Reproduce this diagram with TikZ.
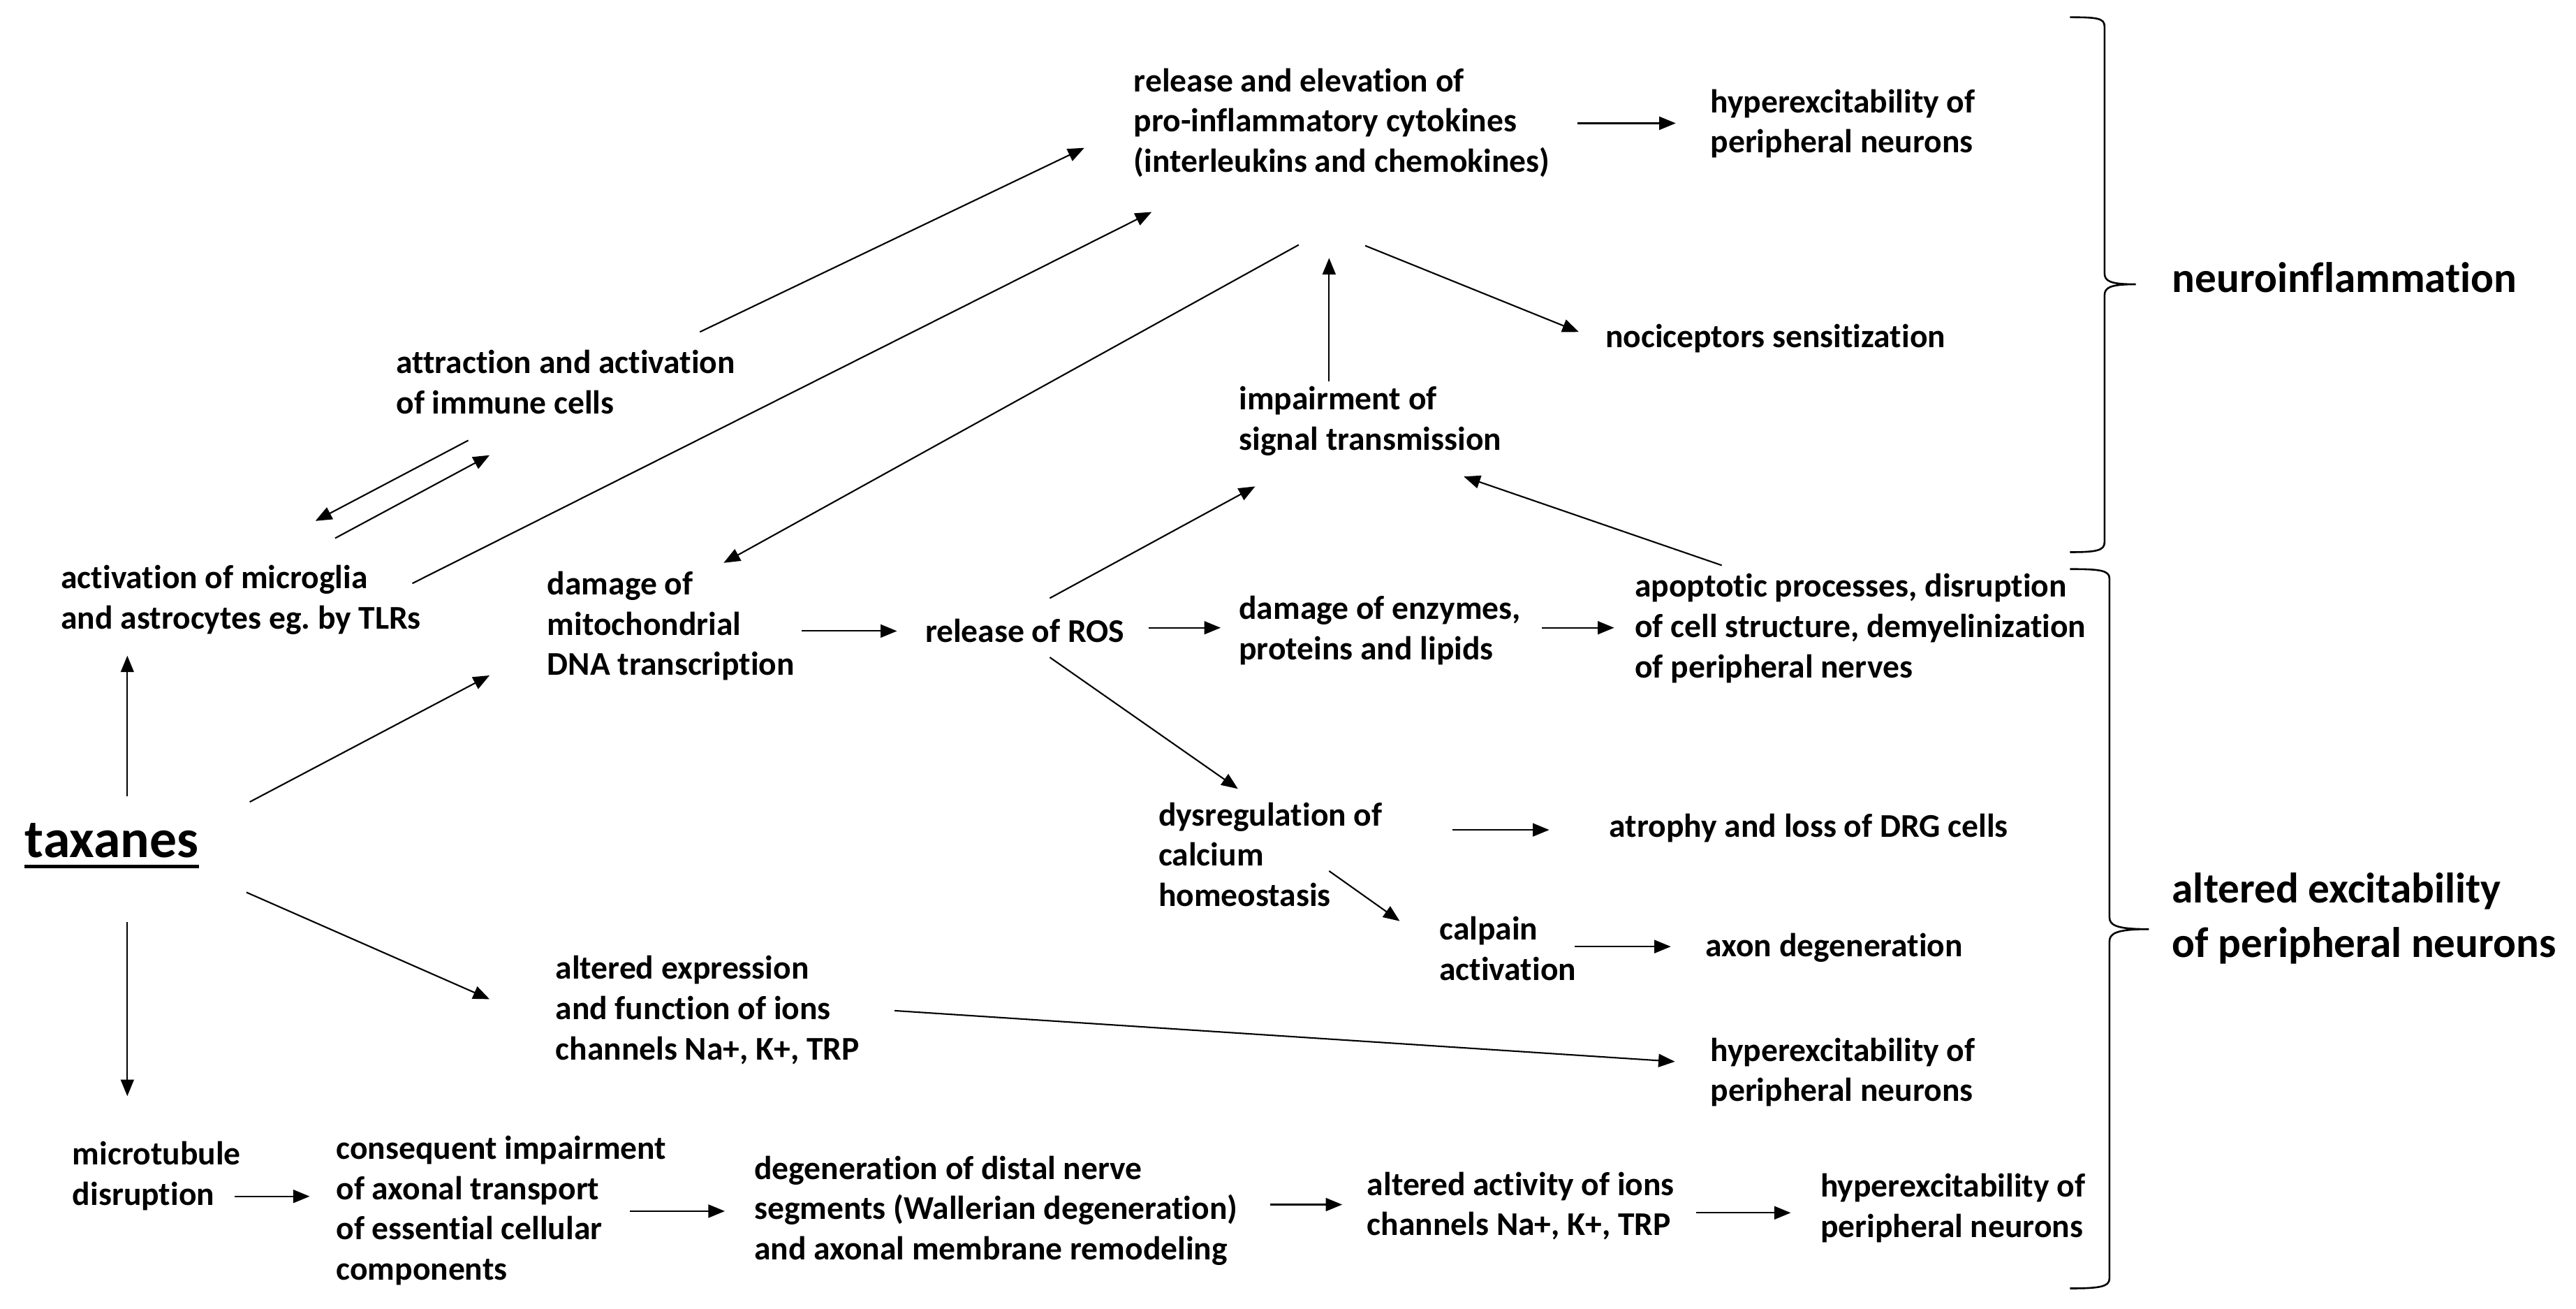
\documentclass[tikz,border=0pt]{standalone}
\usepackage{fontspec}
\setmainfont{Carlito}[Ligatures=NoCommon]
\usetikzlibrary{arrows.meta}
\frenchspacing
\begin{document}
\begin{tikzpicture}[x=1pt,y=-1pt,
  txt/.style={anchor=west,align=left,inner sep=0pt,font=\fontsize{20.2}{24.5}\selectfont\bfseries},
  big/.style={anchor=west,align=left,inner sep=0pt,font=\fontsize{26}{33}\selectfont\bfseries},
  arr/.style={-{Triangle[length=10pt,width=8pt]},line width=0.9pt},
  bracestyle/.style={line width=1.1pt}]
\useasboundingbox (0,0) rectangle (1568,796.5);

% nodes
\node[txt] (cyto) at (690,74.7) {release and elevation of\\pro-inflammatory cytokines\\(interleukins and chemokines)};
\node[txt] (hyp1) at (1041,75.3) {hyperexcitability of\\peripheral neurons};
\node[big] (neuro) at (1322,169) {neuroinflammation};
\node[txt] (immune) at (241,232.4) {attraction and activation\\of immune cells};
\node[txt] (noci) at (977,206) {nociceptors sensitization};
\node[txt] (impair) at (754,256.2) {impairment of\\signal transmission};
\node[txt] (micro) at (37,365) {activation of microglia\\and astrocytes eg.\ by TLRs};
\node[txt] (mito) at (333,381) {damage of\\mitochondrial\\DNA transcription};
\node[txt] (ros) at (563,383.7) {release of ROS};
\node[txt] (enz) at (754,383.7) {damage of enzymes,\\proteins and lipids};
\node[txt] (apop) at (995,382.4) {apoptotic processes, disruption\\of cell structure, demyelinization\\of peripheral nerves};
\node[big] (altex) at (1322,559) {altered excitability\\of peripheral neurons};
\node[anchor=west,inner sep=0pt,font=\fontsize{33}{40}\selectfont\bfseries] (tax) at (15,511.5) {taxanes};
\draw[line width=2.2pt] ([yshift=-5.5pt]tax.base west) -- ([yshift=-5.5pt]tax.base east);
\node[txt] (dys) at (705,519.9) {dysregulation of\\calcium\\homeostasis};
\node[txt] (atro) at (979.5,504) {atrophy and loss of DRG cells};
\node[txt] (calp) at (876,577.3) {calpain\\activation};
\node[txt] (axon) at (1038,576.6) {axon degeneration};
\node[txt] (altexp) at (338,614.6) {altered expression\\and function of ions\\channels Na+, K+, TRP};
\node[txt] (hyp2) at (1041,652.4) {hyperexcitability of\\peripheral neurons};
\node[txt] (mt) at (44,715.7) {microtubule\\disruption};
\node[txt] (cons) at (204.5,736.6) {consequent impairment\\of axonal transport\\of essential cellular\\components};
\node[txt] (degen) at (459,736.6) {degeneration of distal nerve\\segments (Wallerian degeneration)\\and axonal membrane remodeling};
\node[txt] (altact) at (832,733.8) {altered activity of ions\\channels Na+, K+, TRP};
\node[txt] (hyp3) at (1108,735.1) {hyperexcitability of\\peripheral neurons};

% connector end points
\coordinate (tax-u) at (77.5,484.5);   \coordinate (micro-s) at (77.5,399);
\coordinate (tax-ne) at (152,488);     \coordinate (mito-sw) at (298,411);
\coordinate (tax-se) at (150,543);     \coordinate (altexp-w) at (298,608);
\coordinate (tax-d) at (77.5,561);     \coordinate (mt-n) at (77.5,667);
\coordinate (immune-sw) at (285,268);  \coordinate (micro-ne1) at (192,317);
\coordinate (micro-ne2) at (204,327.5);\coordinate (immune-sw2) at (298,277);
\coordinate (micro-e) at (251,355);    \coordinate (cyto-sw2) at (701,129);
\coordinate (immune-ne) at (426,202);  \coordinate (cyto-sw1) at (660,90);
\coordinate (cyto-s1) at (790.5,149);  \coordinate (mito-ne) at (440.5,342.5);
\coordinate (impair-n) at (809,232);   \coordinate (cyto-s2) at (809,157);
\coordinate (cyto-s3) at (831,149.5);  \coordinate (noci-w) at (961,202);
\coordinate (cyto-e) at (960,75);      \coordinate (hyp1-w) at (1020,75);
\coordinate (ros-n) at (639,364);      \coordinate (impair-sw) at (764,296);
\coordinate (apop-n) at (1048,344);    \coordinate (impair-se) at (891,290);
\coordinate (mito-e) at (488,384);     \coordinate (ros-w) at (546,384);
\coordinate (ros-e) at (699,382);      \coordinate (enz-w) at (743,382);
\coordinate (enz-e) at (938.5,382);    \coordinate (apop-w) at (982.5,382);
\coordinate (ros-s) at (639,400);      \coordinate (dys-n) at (753.5,480);
\coordinate (dys-e) at (884,505);      \coordinate (atro-w) at (943,505);
\coordinate (dys-se) at (809,530);     \coordinate (calp-nw) at (852,560.5);
\coordinate (calp-e) at (958.6,576);   \coordinate (axon-w) at (1017,576);
\coordinate (altexp-e) at (544.5,615); \coordinate (hyp2-w) at (1019.5,646);
\coordinate (mt-e) at (142.7,728);     \coordinate (cons-w) at (188.5,728);
\coordinate (cons-e) at (383.4,737);   \coordinate (degen-w) at (441.2,737);
\coordinate (degen-e) at (773,733);    \coordinate (altact-w) at (817,733);
\coordinate (altact-e) at (1032.6,738);\coordinate (hyp3-w) at (1090,738);

% connectors
\draw[arr] (tax-u) -- (micro-s);
\draw[arr] (tax-ne) -- (mito-sw);
\draw[arr] (tax-se) -- (altexp-w);
\draw[arr] (tax-d) -- (mt-n);
\draw[arr] (immune-sw) -- (micro-ne1);
\draw[arr] (micro-ne2) -- (immune-sw2);
\draw[arr] (micro-e) -- (cyto-sw2);
\draw[arr] (immune-ne) -- (cyto-sw1);
\draw[arr] (cyto-s1) -- (mito-ne);
\draw[arr] (impair-n) -- (cyto-s2);
\draw[arr] (cyto-s3) -- (noci-w);
\draw[arr] (cyto-e) -- (hyp1-w);
\draw[arr] (ros-n) -- (impair-sw);
\draw[arr] (apop-n) -- (impair-se);
\draw[arr] (mito-e) -- (ros-w);
\draw[arr] (ros-e) -- (enz-w);
\draw[arr] (enz-e) -- (apop-w);
\draw[arr] (ros-s) -- (dys-n);
\draw[arr] (dys-e) -- (atro-w);
\draw[arr] (dys-se) -- (calp-nw);
\draw[arr] (calp-e) -- (axon-w);
\draw[arr] (altexp-e) -- (hyp2-w);
\draw[arr] (mt-e) -- (cons-w);
\draw[arr] (cons-e) -- (degen-w);
\draw[arr] (degen-e) -- (altact-w);
\draw[arr] (altact-e) -- (hyp3-w);

% braces
\draw[bracestyle] (1260,10.5) .. controls (1276,10.5) and (1281,11) .. (1281,16)
  -- (1281,166) .. controls (1281,171) and (1284,173) .. (1300,173)
  .. controls (1284,173) and (1281,175) .. (1281,180)
  -- (1281,330) .. controls (1281,335) and (1276,336) .. (1260,336);
\draw[bracestyle] (1260,346.3) .. controls (1278,346.3) and (1284,347) .. (1284,352)
  -- (1284,558) .. controls (1284,563) and (1288,565.4) .. (1308,565.4)
  .. controls (1288,565.4) and (1284,568) .. (1284,573)
  -- (1284,778) .. controls (1284,783) and (1278,784) .. (1260,784);
\end{tikzpicture}
\end{document}
